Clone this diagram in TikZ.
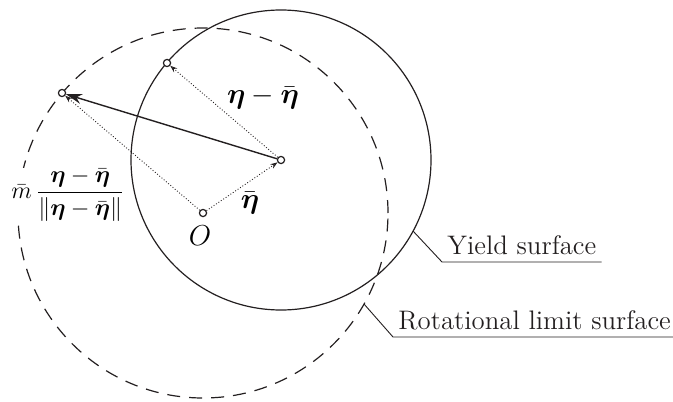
\documentclass[tikz,border=0pt]{standalone}
\usepackage{amsmath,amssymb}
\usepackage{tikz}
\usetikzlibrary{arrows.meta, positioning, calc}
\definecolor{tDark}{RGB}{35, 31, 32}

\begin{document}
\begin{tikzpicture}[
    x=0.5pt, y=-0.5pt,
    font=\fontsize{13.4}{15}\selectfont,
    >=Stealth,
    surface/.style={line width=0.6pt, color=tDark},
    limit/.style={surface, dash pattern=on 6.5pt off 4.5pt},
    dot/.style={circle, draw=tDark, fill=white, line width=0.6pt, inner sep=0pt, minimum size=3.6pt},
    vec/.style={->, densely dotted, line width=0.45pt, color=tDark,
        >={Stealth[open, length=3.6pt, width=2.6pt]}},
    mainarrow/.style={-{Stealth[length=8pt, width=5pt]}, line width=0.7pt, color=tDark},
    leader/.style={line width=0.45pt, color=tDark},
    tag/.style={anchor=south west, inner xsep=2.5pt, inner ysep=3.5pt, text depth=0pt, text=tDark}
]
\useasboundingbox (0,0) rectangle (673,401);

\coordinate (center) at (281,160);
\coordinate (origin) at (203,213);

% Surfaces (the fraction label sits on a gap of the dashed one)
\draw[limit] (origin) circle[radius=92.5pt];
\node[fill=white, inner sep=0.5pt, font=\fontsize{13}{15}\selectfont] (lfrac) at (68,195)
    {$\bar{m}\,\dfrac{\boldsymbol{\eta}-\bar{\boldsymbol{\eta}}}{\|\boldsymbol{\eta}-\bar{\boldsymbol{\eta}}\|}$};
\draw[surface] (center) circle[radius=75pt];

% Points
\node[dot] (O) at (origin) {};
\node[dot] (etabar) at (center) {};
\node[dot] (yieldpt) at (167,63) {};
\node[dot] (limitpt) at (62,93) {};

\draw[vec] (O) -- (etabar);
\draw[vec] (etabar) -- (yieldpt);
\draw[vec] (O) -- (limitpt);
\draw[mainarrow] (etabar) -- (limitpt);

% Labels
\node (lO) at (200,236) {$O$};
\node (lbar) at (250,203) {$\bar{\boldsymbol{\eta}}$};
\node (ldiff) at (263,98) {$\boldsymbol{\eta}-\bar{\boldsymbol{\eta}}$};

% Leaders
\coordinate (yieldon) at (413,231);
\coordinate (limiton) at (364,304);
\node[tag] (yieldlbl) at (442,262) {Yield surface};
\node[tag] (limitlbl) at (393,337) {Rotational limit surface};
\draw[leader] (yieldon) -- (yieldlbl.south west) -- (yieldlbl.south east);
\draw[leader] (limiton) -- (limitlbl.south west) -- (limitlbl.south east);

\end{tikzpicture}
\end{document}
